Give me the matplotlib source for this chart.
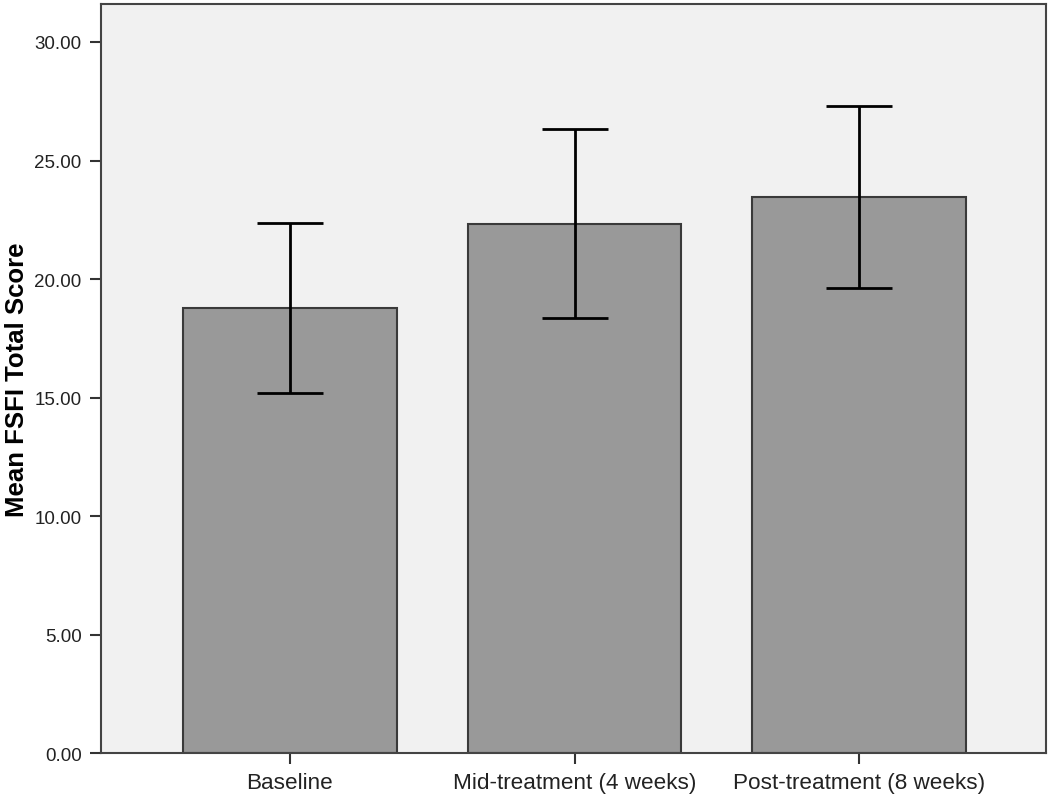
import matplotlib
matplotlib.use("Agg")
import matplotlib.pyplot as plt
import numpy as np

categories = ["Baseline", "Mid-treatment (4 weeks)", "Post-treatment (8 weeks)"]
means = [18.80, 22.34, 23.48]
upper = [22.38, 26.31, 27.28]
lower = [15.21, 18.38, 19.64]
yticks = [0, 5, 10, 15, 20, 25, 30]

plt.rcParams['font.family'] = ['Liberation Sans', 'DejaVu Sans']

fig = plt.figure(figsize=(10.5, 8.03), dpi=100)
ax = fig.add_axes([0.0962, 0.0604, 0.9, 0.9334])
ax.set_facecolor('#f1f1f1')

x = np.arange(len(categories))
m = np.array(means)
yerr = np.vstack([m - np.array(lower), np.array(upper) - m])
ax.bar(x, m, width=0.75, color='#999999', edgecolor='#3a3a3a', linewidth=1.5, zorder=2)
ax.errorbar(x, m, yerr=yerr, fmt='none', ecolor='black', elinewidth=2,
            capsize=24, capthick=2, zorder=3)

ax.set_xlim(-0.664, 2.657)
ax.set_ylim(0, 31.6)
ax.set_yticks(yticks)
ax.set_yticklabels([f"{v:.2f}" for v in yticks], fontsize=13.5, color='#222222')
ax.set_xticks(x)
ax.set_xticklabels(categories, fontsize=16.2, color='#222222')
ax.tick_params(axis='both', direction='out', length=8, width=1.5, color='#333333', pad=6)
ax.tick_params(axis='x', pad=5)
for s in ax.spines.values():
    s.set_linewidth(1.5)
    s.set_color('#444444')
ax.set_ylabel("Mean FSFI Total Score", fontsize=18.5, fontweight='bold', labelpad=4)

fig.savefig("out.png", dpi=100)
